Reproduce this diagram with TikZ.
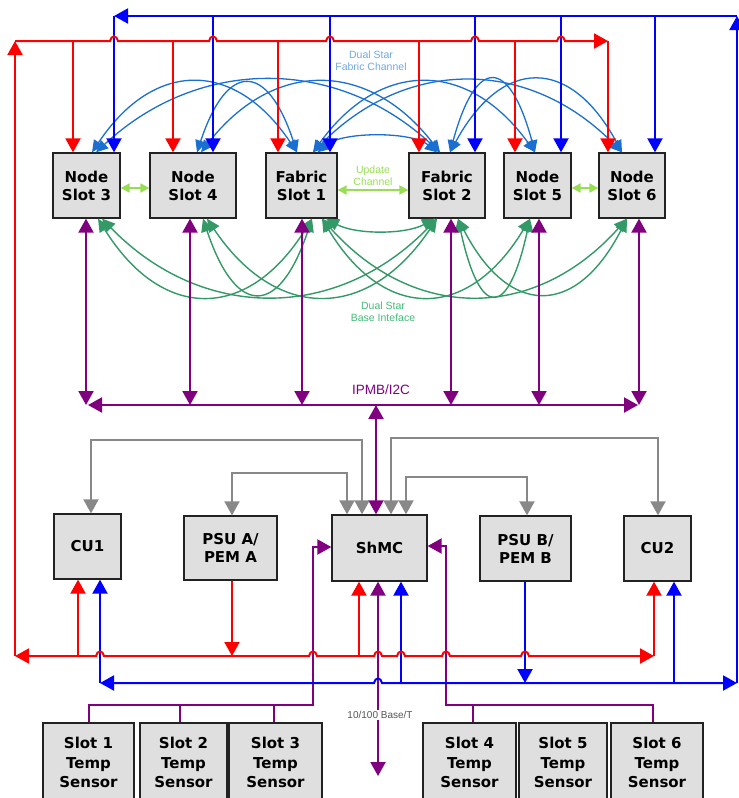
\documentclass[tikz,border=0pt]{standalone}
\usepackage{fontspec}
\setmainfont{Liberation Sans}
\newfontfamily\boxfont{DejaVu Sans}
\usetikzlibrary{arrows.meta}
\definecolor{cred}{HTML}{FF0000}
\definecolor{cblue}{HTML}{0000FF}
\definecolor{cpurp}{HTML}{800080}
\definecolor{cgrey}{HTML}{888888}
\definecolor{cfab}{HTML}{1A6FD0}
\definecolor{cbase}{HTML}{339966}
\definecolor{cupd}{HTML}{99DD55}
\definecolor{cfabtxt}{HTML}{70A8E0}
\definecolor{cbasetxt}{HTML}{44BB77}
\definecolor{cboxfill}{HTML}{DFDFDF}
\definecolor{cboxdraw}{HTML}{222222}
\definecolor{ctxt}{HTML}{555555}
\tikzset{
  box/.style={draw=cboxdraw, fill=cboxfill, line width=1.3pt, inner sep=0pt, align=center,
    font=\boxfont\bfseries\fontsize{15}{18}\selectfont},
  sens/.style={box, font=\boxfont\bfseries\fontsize{15}{19.3}\selectfont},
  redl/.style={draw=cred, line width=2pt},
  bluel/.style={draw=cblue, line width=2pt},
  purpl/.style={draw=cpurp, line width=2pt},
  greyl/.style={draw=cgrey, line width=2pt},
  fcurve/.style={draw=cfab, line width=1.3pt, <->, >={Triangle[width=11pt,length=12pt]}},
  gcurve/.style={draw=cbase, line width=1.4pt, <->, >={Triangle[width=12pt,length=13pt]}},
  updl/.style={draw=cupd, line width=2pt, <->, >={Triangle[width=9pt,length=9pt]}},
  lab/.style={align=center, inner sep=0pt, font=\fontsize{10.5}{12}\selectfont},
  >={Triangle[width=15pt,length=14pt]}
}
\begin{document}
\begin{tikzpicture}[x=1pt,y=-1pt]
\useasboundingbox (0,0) rectangle (739,798);
% top row
\node[box, minimum width=67pt, minimum height=65pt] (n3) at (86.5,185.5) {Node\\Slot 3};
\node[box, minimum width=86pt, minimum height=65pt] (n4) at (193,185.5) {Node\\Slot 4};
\node[box, minimum width=71pt, minimum height=65pt] (f1) at (301.5,185.5) {Fabric\\Slot 1};
\node[box, minimum width=76pt, minimum height=65pt] (f2) at (447,185.5) {Fabric\\Slot 2};
\node[box, minimum width=67pt, minimum height=65pt] (n5) at (537.5,185.5) {Node\\Slot 5};
\node[box, minimum width=66pt, minimum height=65pt] (n6) at (632,185.5) {Node\\Slot 6};
% middle row
\node[box, minimum width=67pt, minimum height=65pt] (cu1) at (87.5,546.5) {CU1};
\node[box, minimum width=93pt, minimum height=64pt] (psua) at (230.5,548) {PSU A/\\PEM A};
\node[box, minimum width=95pt, minimum height=66pt] (shmc) at (379.5,548) {ShMC};
\node[box, minimum width=91pt, minimum height=65pt] (psub) at (525.5,548.5) {PSU B/\\PEM B};
\node[box, minimum width=67pt, minimum height=65pt] (cu2) at (657.5,548.5) {CU2};
% sensors
\node[sens, minimum width=91pt, minimum height=79pt] (s1) at (88.5,762.5) {Slot 1\\Temp\\Sensor};
\node[sens, minimum width=87pt, minimum height=79pt] (s2) at (183.5,762.5) {Slot 2\\Temp\\Sensor};
\node[sens, minimum width=93pt, minimum height=79pt] (s3) at (275.5,762.5) {Slot 3\\Temp\\Sensor};
\node[sens, minimum width=93pt, minimum height=79pt] (s4) at (469.5,762.5) {Slot 4\\Temp\\Sensor};
\node[sens, minimum width=88pt, minimum height=79pt] (s5) at (563,762.5) {Slot 5\\Temp\\Sensor};
\node[sens, minimum width=92pt, minimum height=79pt] (s6) at (657,762.5) {Slot 6\\Temp\\Sensor};
% labels
\node[lab, text=cfabtxt] (lfab) at (371,61) {Dual Star\\Fabric Channel};
\node[lab, text=cupd] (lupd) at (373,176) {Update\\Channel};
\node[lab, text=cbasetxt] (lbase) at (383,312) {Dual Star\\Base Inteface};
\node[inner sep=0pt, text=cpurp, font=\fontsize{13.5}{16}\selectfont] (lipmb) at (381,390) {IPMB/I2C};

% coordinates
\coordinate (rTL) at (15,41);
\coordinate (rTR) at (608,41);
\coordinate (rBL) at (15,656);
\coordinate (rBR) at (654,656);
\coordinate (bTL) at (114,16);
\coordinate (bTR) at (737,16);
\coordinate (bBL) at (100,683);
\coordinate (bBR) at (737,683);
\coordinate (pBL) at (88,405);
\coordinate (pBR) at (638,405);

% blue fabric curves
\draw[fcurve] ([xshift=5.5pt]n3.north) .. controls +(62,-93) and +(-62,-93) .. ([xshift=-4.5pt]f1.north);
\draw[fcurve] ([xshift=4pt]n4.north) .. controls +(30,-91) and +(-30,-91) .. ([xshift=-4.5pt]f1.north);
\draw[fcurve] ([xshift=9.5pt]n3.north) .. controls +(103,-96) and +(-103,-96) .. ([xshift=-7pt]f2.north);
\draw[fcurve] ([xshift=8pt]n4.north) .. controls +(72,-93) and +(-72,-93) .. ([xshift=-7pt]f2.north);
\draw[fcurve] ([xshift=11.5pt]f1.north) .. controls +(67,-93) and +(-67,-93) .. ([xshift=-2.5pt]n5.north);
\draw[fcurve] ([xshift=11.5pt]f1.north) .. controls +(93,-95) and +(-93,-95) .. ([xshift=-10pt]n6.north);
\draw[fcurve] ([xshift=3pt]f2.north) .. controls +(26,-96) and +(-26,-96) .. ([xshift=-2.5pt]n5.north);
\draw[fcurve] ([xshift=3pt]f2.north) .. controls +(52,-96) and +(-52,-96) .. ([xshift=-10pt]n6.north);
\draw[fcurve] ([xshift=16pt]f1.north) .. controls +(25,-21) and +(-25,-21) .. ([xshift=-10pt]f2.north);

% green base curves
\draw[gcurve] ([xshift=11.5pt]n3.south) .. controls +(64,103) and +(-64,103) .. ([xshift=10.5pt]f1.south);
\draw[gcurve] ([xshift=10pt]n4.south) .. controls +(33,99) and +(-33,99) .. ([xshift=10.5pt]f1.south);
\draw[gcurve] ([xshift=15.5pt]n3.south) .. controls +(100,103) and +(-100,103) .. ([xshift=-10pt]f2.south);
\draw[gcurve] ([xshift=14pt]n4.south) .. controls +(69,103) and +(-69,103) .. ([xshift=-10pt]f2.south);
\draw[gcurve] ([xshift=20.5pt]f1.south) .. controls +(62,103) and +(-62,103) .. ([xshift=-7.5pt]n5.south);
\draw[gcurve] ([xshift=20.5pt]f1.south) .. controls +(92,103) and +(-92,103) .. ([xshift=-5pt]n6.south);
\draw[gcurve] ([xshift=11pt]f2.south) .. controls +(22,101) and +(-22,101) .. ([xshift=-7.5pt]n5.south);
\draw[gcurve] ([xshift=11pt]f2.south) .. controls +(51,99) and +(-51,99) .. ([xshift=-5pt]n6.south);
\draw[gcurve] ([xshift=24.5pt]f1.south) .. controls +(30,16) and +(-30,16) .. ([xshift=-12pt]f2.south);

% update channel
\draw[updl] ([yshift=-2.5pt]n3.east) -- ([yshift=-2.5pt]n4.west);
\draw[updl] ([yshift=-4.5pt]f1.east) -- ([yshift=-4.5pt]f2.west);
\draw[updl] ([yshift=-2.5pt]n5.east) -- ([yshift=-2.5pt]n6.west);

% blue top
\draw[bluel,->] (bBR) -- (bTR);
\draw[bluel,->] (bTR) -- (bTL);
\coordinate (b4) at (213,16);
\coordinate (bf1) at (330,16);
\coordinate (bf2) at (475,16);
\coordinate (b5) at (561,16);
\coordinate (b6) at (655,16);
\draw[bluel,->] (bTL) -- (bTL |- n3.north);
\draw[bluel,->] (b4) -- (b4 |- n4.north);
\draw[bluel,->] (bf1) -- (bf1 |- f1.north);
\draw[bluel,->] (bf2) -- (bf2 |- f2.north);
\draw[bluel,->] (b5) -- (b5 |- n5.north);
\draw[bluel,->] (b6) -- (b6 |- n6.north);

% red top
\draw[redl,->] (rBL) -- (rTL);
\draw[redl,->] (rTL) -- (110,41) .. controls (111,35) and (117,35) .. (118,41)
  -- (209,41) .. controls (210,35) and (216,35) .. (217,41)
  -- (326,41) .. controls (327,35) and (333,35) .. (334,41)
  -- (471,41) .. controls (472,35) and (478,35) .. (479,41)
  -- (557,41) .. controls (558,35) and (564,35) .. (565,41) -- (rTR);
\coordinate (r3) at (73,41);
\coordinate (r4) at (173,41);
\coordinate (rf1) at (278,41);
\coordinate (rf2) at (419,41);
\coordinate (r5) at (515,41);
\draw[redl,->] (r3) -- (r3 |- n3.north);
\draw[redl,->] (r4) -- (r4 |- n4.north);
\draw[redl,->] (rf1) -- (rf1 |- f1.north);
\draw[redl,->] (rf2) -- (rf2 |- f2.north);
\draw[redl,->] (r5) -- (r5 |- n5.north);
\draw[redl,->] (rTR) -- (rTR |- n6.north);

% IPMB
\draw[purpl,<->] (pBL) -- (pBR);
\coordinate (p3) at (86,405);
\coordinate (p4) at (190,405);
\coordinate (pf1) at (302,405);
\coordinate (pf2) at (451,405);
\coordinate (p5) at (539,405);
\coordinate (p6) at (639,405);
\draw[purpl,<->] (p3 |- n3.south) -- (p3);
\draw[purpl,<->] (p4 |- n4.south) -- (p4);
\draw[purpl,<->] (pf1 |- f1.south) -- (pf1);
\draw[purpl,<->] (pf2 |- f2.south) -- (pf2);
\draw[purpl,<->] (p5 |- n5.south) -- (p5);
\draw[purpl,<->] (p6 |- n6.south) -- (p6);
\coordinate (pS) at (376,405);
\draw[purpl,<->] (pS) -- (pS |- shmc.north);

% grey
\draw[greyl,<->] ([xshift=3.5pt]cu1.north) -- ++(0,-73) -| ([xshift=-17.5pt]shmc.north);
\draw[greyl,<->] ([xshift=1.5pt]psua.north) -- ++(0,-42) -| ([xshift=-32.5pt]shmc.north);
\draw[greyl,<->] ([xshift=26.5pt]shmc.north) -- ++(0,-37) -| ([xshift=1.5pt]psub.north);
\draw[greyl,<->] ([xshift=11.5pt]shmc.north) -- ++(0,-76) -| ([xshift=0.5pt]cu2.north);

% sensors to ShMC
\coordinate (pl) at (313,705);
\coordinate (pr) at (446,705);
\draw[purpl,->] ([xshift=0.5pt]s1.north) |- (pl) |- ([yshift=1pt]shmc.west);
\draw[purpl] ([xshift=-3.5pt]s2.north) -- ([xshift=-3.5pt]s2.north |- pl);
\draw[purpl] ([xshift=-1.5pt]s3.north) -- ([xshift=-1.5pt]s3.north |- pl);
\draw[purpl,->] ([xshift=-4pt]s6.north) |- (pr) |- ([yshift=2pt]shmc.east);
\draw[purpl] ([xshift=3.5pt]s4.north) -- ([xshift=3.5pt]s4.north |- pr);

% ShMC bottom purple
\coordinate (pE) at (378,776);
\draw[purpl,<->] (pE |- shmc.south) -- (pE);

% blue bottom verticals
\coordinate (bsh) at (401,683);
\coordinate (bpb) at (525,683);
\coordinate (bc2) at (674,683);
\draw[bluel,->] (bBL) -- (bBL |- cu1.south);
\draw[bluel,->] (bsh) -- (bsh |- shmc.south);
\draw[bluel,->] (bpb |- psub.south) -- (bpb);
\draw[bluel,->] (bc2) -- (bc2 |- cu2.south);

% red bottom
\draw[redl,<->] (rBL) -- (96,656) .. controls (97,650) and (103,650) .. (104,656)
  -- (309,656) .. controls (310,650) and (316,650) .. (317,656)
  -- (374,656) .. controls (375,650) and (381,650) .. (382,656)
  -- (397,656) .. controls (398,650) and (404,650) .. (405,656)
  -- (442,656) .. controls (443,650) and (449,650) .. (450,656)
  -- (521,656) .. controls (522,650) and (528,650) .. (529,656) -- (rBR);
\coordinate (rc1) at (78,656);
\coordinate (rpa) at (232,656);
\coordinate (rsh) at (359,656);
\draw[redl,->] (rc1) -- (rc1 |- cu1.south);
\draw[redl,->] (rpa |- psua.south) -- (rpa);
\draw[redl,->] (rsh) -- (rsh |- shmc.south);
\draw[redl,->] (rBR) -- (rBR |- cu2.south);

% blue bottom bus
\draw[bluel,<->] (bBL) -- (374,683) .. controls (375,677) and (381,677) .. (382,683) -- (bBR);

\node[fill=white, inner sep=1pt, text=ctxt, font=\fontsize{10}{12}\selectfont] (lbase2) at (380,715) {10/100 Base/T};
\end{tikzpicture}
\end{document}
